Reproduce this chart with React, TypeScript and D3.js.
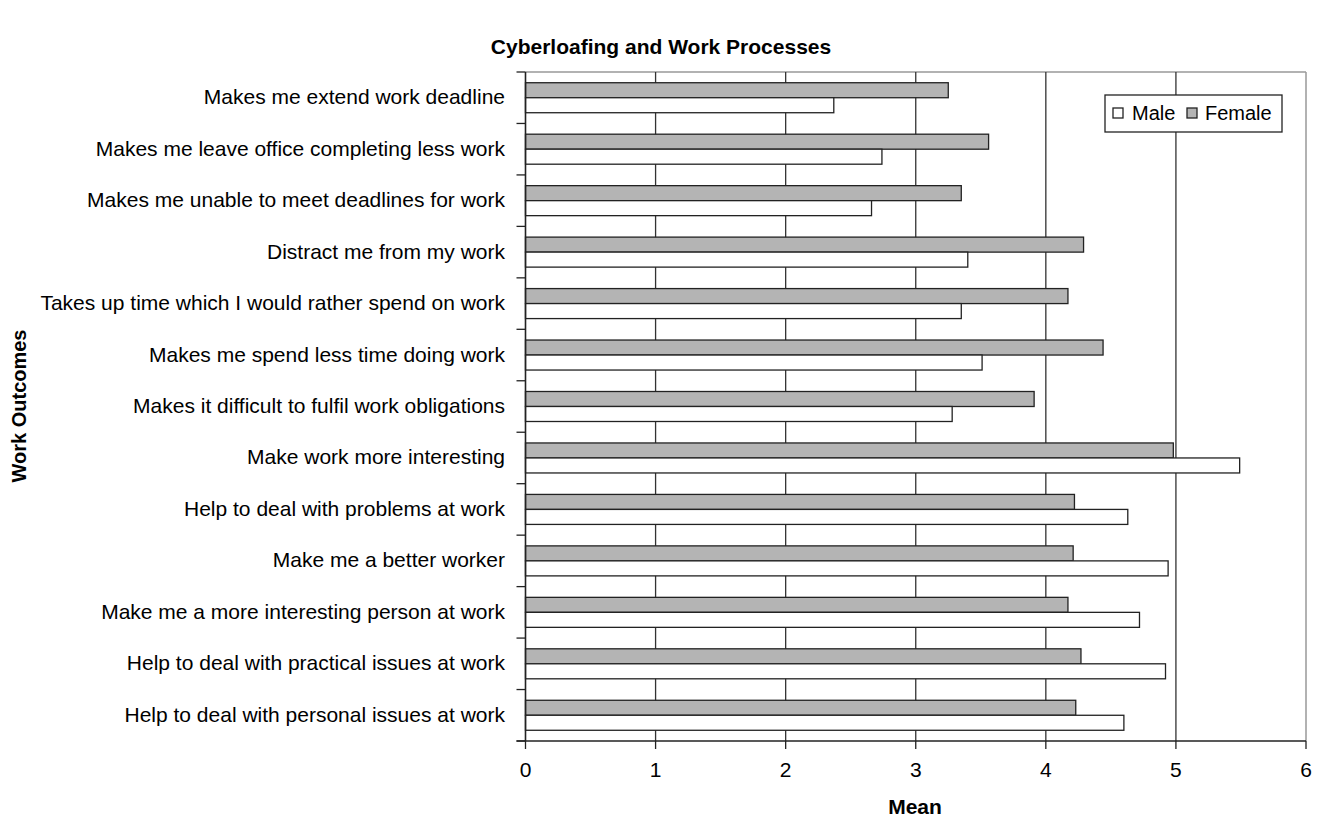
import React from "react";
import * as d3 from "d3";

const categories = [
  "Makes me extend work deadline",
  "Makes me leave office completing less work",
  "Makes me unable to meet deadlines for work",
  "Distract me from my work",
  "Takes up time which I would rather spend on work",
  "Makes me spend less time doing work",
  "Makes it difficult to fulfil work obligations",
  "Make work more interesting",
  "Help to deal with problems at work",
  "Make me a better worker",
  "Make me a more interesting person at work",
  "Help to deal with practical issues at work",
  "Help to deal with personal issues at work",
];
const femaleValues = [3.25, 3.56, 3.35, 4.29, 4.17, 4.44, 3.91, 4.98, 4.22, 4.21, 4.17, 4.27, 4.23];
const maleValues = [2.37, 2.74, 2.66, 3.4, 3.35, 3.51, 3.28, 5.49, 4.63, 4.94, 4.72, 4.92, 4.6];
const xTicks = [0, 1, 2, 3, 4, 5, 6];
const seriesNames = ["Female", "Male"];

const W = 1321;
const H = 818;
const left = 525.5;
const right = 1306;
const top = 72;
const bottom = 741;
const FONT = "'Liberation Sans', Arial, sans-serif";
const FEMALE_FILL = "#b4b4b4";
const STROKE = "#222";

export default function App() {
  const x = d3.scaleLinear().domain([0, 6]).range([left, right]);
  const y = d3.scaleBand<string>().domain(categories).range([top, bottom]).paddingInner(0.417).paddingOuter(0.2085);
  const inner = d3.scaleBand<string>().domain(seriesNames).range([0, y.bandwidth()]);
  const step = (bottom - top) / categories.length;

  return (
    <svg width={W} height={H} style={{ position: "absolute", left: 0, top: 0, background: "#fff" }} fontFamily={FONT}>
      <rect x={0} y={0} width={W} height={H} fill="#fff" />
      <text x={661} y={54} textAnchor="middle" fontSize={21} fontWeight="bold">
        Cyberloafing and Work Processes
      </text>
      {/* plot border top/right */}
      <line x1={left} x2={right} y1={top} y2={top} stroke="#999" strokeWidth={1.5} />
      <line x1={right} x2={right} y1={top} y2={bottom} stroke="#999" strokeWidth={1.5} />
      {/* vertical gridlines */}
      {xTicks.slice(1, -1).map((t) => (
        <line key={t} x1={x(t)} x2={x(t)} y1={top} y2={bottom} stroke="#333" strokeWidth={1.3} />
      ))}
      {/* bars */}
      {categories.map((c, i) => (
        <g key={c}>
          <rect
            x={x(0)}
            y={(y(c) as number) + (inner("Female") as number)}
            width={x(femaleValues[i]) - x(0)}
            height={inner.bandwidth()}
            fill={FEMALE_FILL}
            stroke={STROKE}
            strokeWidth={1.3}
          />
          <rect
            x={x(0)}
            y={(y(c) as number) + (inner("Male") as number)}
            width={x(maleValues[i]) - x(0)}
            height={inner.bandwidth()}
            fill="#fff"
            stroke={STROKE}
            strokeWidth={1.3}
          />
        </g>
      ))}
      {/* axes */}
      <line x1={left} x2={left} y1={top} y2={bottom} stroke={STROKE} strokeWidth={1.6} />
      <line x1={left - 9} x2={right} y1={bottom} y2={bottom} stroke={STROKE} strokeWidth={1.6} />
      {d3.range(categories.length + 1).map((i) => (
        <line key={i} x1={left - 9} x2={left} y1={top + i * step} y2={top + i * step} stroke={STROKE} strokeWidth={1.3} />
      ))}
      {xTicks.map((t) => (
        <g key={t}>
          <line x1={x(t)} x2={x(t)} y1={bottom} y2={bottom + 8} stroke={STROKE} strokeWidth={1.3} />
          <text x={x(t)} y={777} textAnchor="middle" fontSize={21}>
            {t}
          </text>
        </g>
      ))}
      {categories.map((c) => (
        <text key={c} x={505} y={(y(c) as number) + y.bandwidth() / 2 - 1} textAnchor="end" dominantBaseline="central" fontSize={21}>
          {c}
        </text>
      ))}
      <text x={915} y={814} textAnchor="middle" fontSize={21} fontWeight="bold">
        Mean
      </text>
      <text transform={`translate(26,406) rotate(-90)`} textAnchor="middle" fontSize={20} fontWeight="bold">
        Work Outcomes
      </text>
      {/* legend */}
      <rect x={1105} y={95} width={177} height={37} fill="#fff" stroke={STROKE} strokeWidth={1.3} />
      <rect x={1113} y={108} width={10} height={10} fill="#fff" stroke={STROKE} strokeWidth={1.3} />
      <text x={1132} y={120} fontSize={20}>Male</text>
      <rect x={1187} y={108} width={10} height={10} fill={FEMALE_FILL} stroke={STROKE} strokeWidth={1.3} />
      <text x={1205} y={120} fontSize={20}>Female</text>
    </svg>
  );
}
